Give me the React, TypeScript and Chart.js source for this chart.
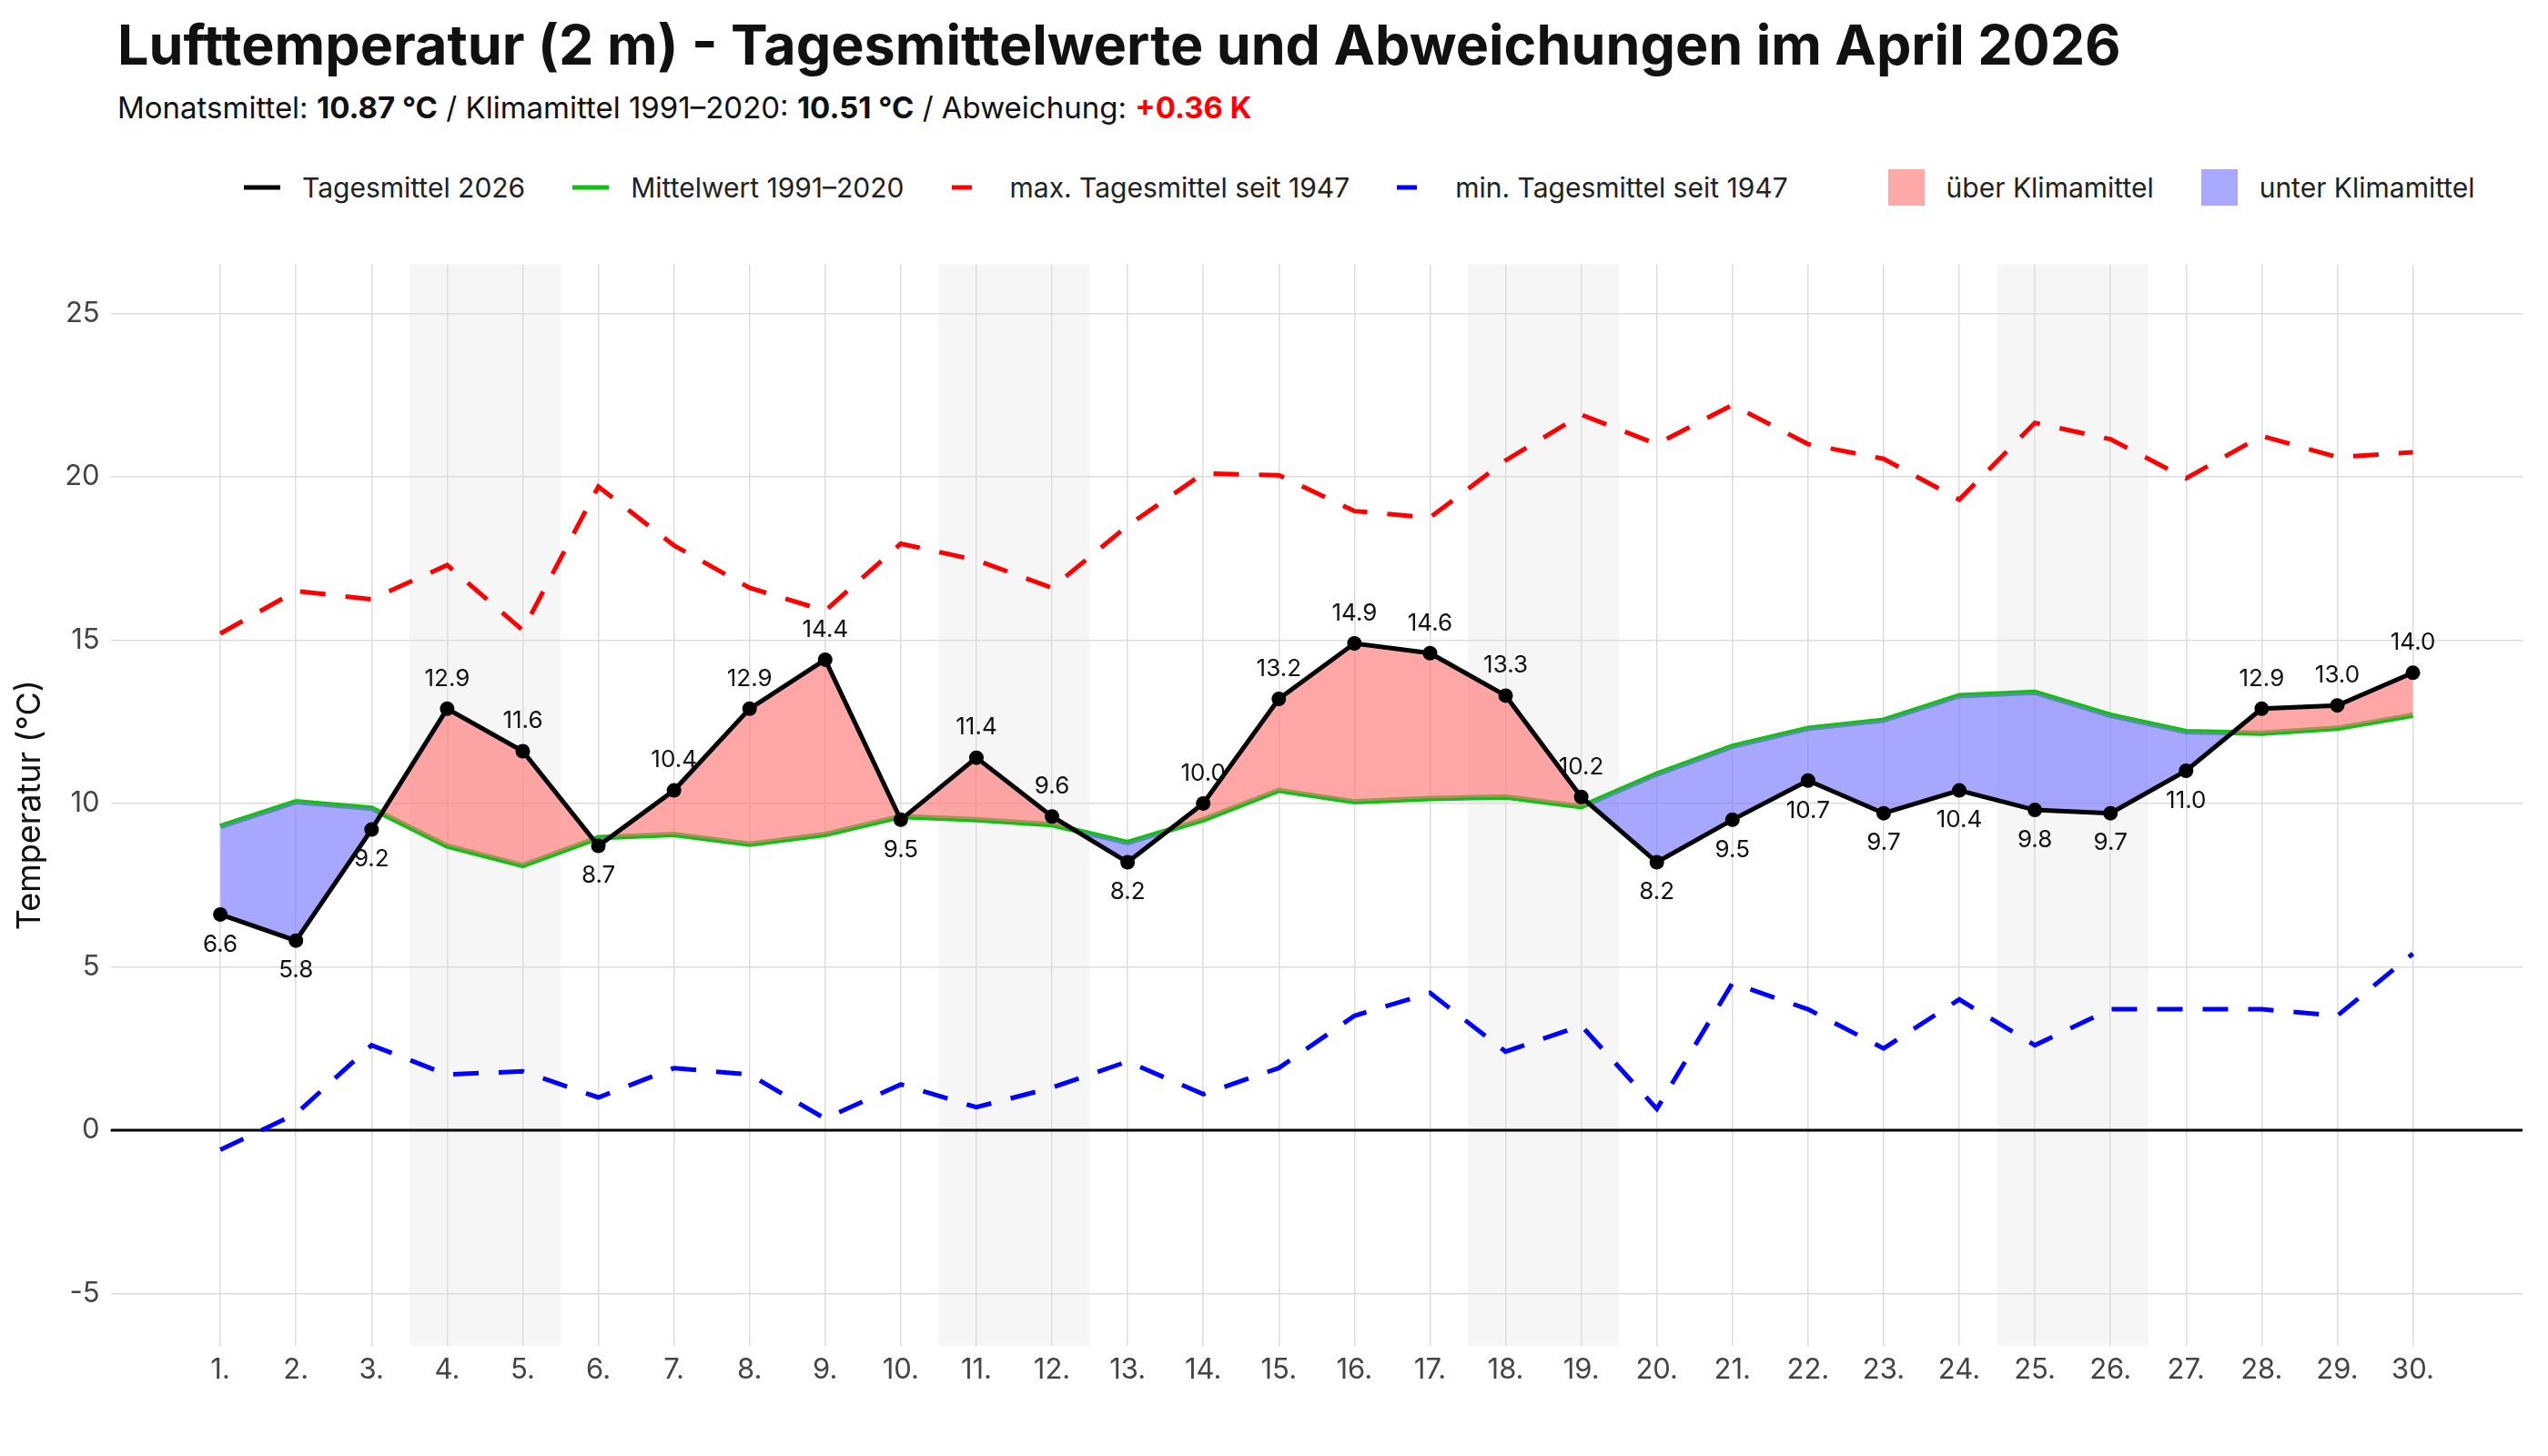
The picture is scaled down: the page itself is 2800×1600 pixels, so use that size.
import React, { useEffect, useRef } from "react";
import { Chart, registerables } from "chart.js";
Chart.register(...registerables);

const days = Array.from({ length: 30 }, (_, i) => i + 1);
const daily = [6.6, 5.8, 9.2, 12.9, 11.6, 8.7, 10.4, 12.9, 14.4, 9.5, 11.4, 9.6, 8.2, 10.0, 13.2, 14.9, 14.6, 13.3, 10.2, 8.2, 9.5, 10.7, 9.7, 10.4, 9.8, 9.7, 11.0, 12.9, 13.0, 14.0];
const climate = [9.3, 10.05, 9.85, 8.7, 8.1, 8.95, 9.05, 8.75, 9.05, 9.6, 9.5, 9.35, 8.8, 9.5, 10.4, 10.05, 10.15, 10.2, 9.9, 10.9, 11.75, 12.3, 12.55, 13.3, 13.4, 12.7, 12.2, 12.15, 12.3, 12.7];
const maxSince = [15.2, 16.5, 16.25, 17.3, 15.3, 19.7, 17.9, 16.6, 15.9, 17.95, 17.45, 16.6, 18.5, 20.1, 20.05, 18.95, 18.75, 20.5, 21.9, 21.0, 22.2, 21.0, 20.55, 19.3, 21.65, 21.15, 19.95, 21.25, 20.6, 20.75];
const minSince = [-0.6, 0.5, 2.6, 1.7, 1.8, 1.0, 1.9, 1.7, 0.35, 1.4, 0.7, 1.3, 2.1, 1.1, 1.9, 3.5, 4.2, 2.4, 3.2, 0.65, 4.5, 3.7, 2.5, 4.0, 2.6, 3.7, 3.7, 3.7, 3.5, 5.4];
const weekends = [[4, 5], [11, 12], [18, 19], [25, 26]];

const FONT = "Inter, 'Noto Sans', sans-serif";

const bgFirst = {
  id: "bgFirst",
  beforeDraw(chart: any) {
    const { ctx, chartArea, scales } = chart;
    ctx.save();
    ctx.fillStyle = "#f6f6f6";
    for (const [a, b] of weekends) {
      const x1 = scales.x.getPixelForValue(a - 0.5);
      const x2 = scales.x.getPixelForValue(b + 0.5);
      ctx.fillRect(x1, chartArea.top, x2 - x1, chartArea.bottom - chartArea.top);
    }
    ctx.restore();
  },
};
const zeroAndLabels = {
  id: "labels",
  afterDatasetsDraw(chart: any) {
    const { ctx, scales } = chart;
    ctx.save();
    ctx.font = `26px ${FONT}`;
    ctx.fillStyle = "#111";
    ctx.textAlign = "center";
    daily.forEach((v, i) => {
      const x = scales.x.getPixelForValue(i + 1);
      const y = scales.y.getPixelForValue(v);
      if (v > climate[i]) {
        ctx.textBaseline = "bottom";
        ctx.fillText(v.toFixed(1), x, y - 20);
      } else {
        ctx.textBaseline = "top";
        ctx.fillText(v.toFixed(1), x, y + 20);
      }
    });
    ctx.restore();
  },
  beforeDatasetsDraw(chart: any) {
    const { ctx, scales, chartArea } = chart;
    const y0 = scales.y.getPixelForValue(0);
    ctx.save();
    ctx.strokeStyle = "#000";
    ctx.lineWidth = 3;
    ctx.beginPath();
    ctx.moveTo(chartArea.left, y0);
    ctx.lineTo(chartArea.right, y0);
    ctx.stroke();
    ctx.restore();
  },
};

function LegendLine({ color, dash }: { color: string; dash?: boolean }) {
  return (
    <svg width="40" height="10" style={{ marginRight: 24 }}>
      <line x1="0" y1="5" x2="40" y2="5" stroke={color} strokeWidth="5" strokeDasharray={dash ? "22 18" : undefined} />
    </svg>
  );
}

export default function App() {
  const ref = useRef<HTMLCanvasElement>(null);
  useEffect(() => {
    const pts = (arr: number[]) => arr.map((v, i) => ({ x: i + 1, y: v }));
    const chart = new Chart(ref.current!, {
      type: "line",
      data: {
        datasets: [
          { label: "clim", data: pts(climate), borderColor: "#11c011", borderWidth: 6, pointRadius: 0, fill: false, order: 2 },
          {
            label: "daily", data: pts(daily), borderColor: "#000", borderWidth: 5, pointRadius: 8, pointBackgroundColor: "#000", pointBorderWidth: 0,
            fill: { target: 0, above: "rgba(255,120,120,0.65)", below: "rgba(120,120,255,0.65)" }, order: 1,
          },
          { label: "max", data: pts(maxSince), borderColor: "#ff0000", borderWidth: 5, borderDash: [28, 22], pointRadius: 0, fill: false, order: 3 },
          { label: "min", data: pts(minSince), borderColor: "#0000ff", borderWidth: 5, borderDash: [28, 22], pointRadius: 0, fill: false, order: 3 },
        ] as any,
      },
      options: {
        animation: false,
        responsive: true,
        maintainAspectRatio: false,
        layout: { padding: { right: 20 } },
        plugins: { legend: { display: false }, tooltip: { enabled: false } },
        scales: {
          x: {
            type: "linear", min: -0.45, max: 31.45,
            afterBuildTicks: (s: any) => { s.ticks = days.map((d) => ({ value: d })); },
            ticks: { callback: (v: any) => `${v}.`, font: { size: 31, family: FONT }, color: "#444", padding: 8 },
            grid: { color: "#dddddd", lineWidth: 1.5, drawTicks: false },
            border: { display: false },
          },
          y: {
            min: -6.6, max: 26.5,
            afterBuildTicks: (s: any) => { s.ticks = [-5, 0, 5, 10, 15, 20, 25].map((v) => ({ value: v })); },
            ticks: { font: { size: 31, family: FONT }, color: "#444", padding: 12 },
            grid: { color: "#dddddd", lineWidth: 1.5, drawTicks: false },
            border: { display: false },
            title: { display: true, text: "Temperatur (°C)", font: { size: 36, family: FONT }, color: "#111" },
          },
        },
      } as any,
      plugins: [bgFirst, zeroAndLabels],
    });
    return () => chart.destroy();
  }, []);

  const legendText: React.CSSProperties = { fontSize: 30, color: "#222" };
  return (
    <div style={{ width: 2784, height: 1580, fontFamily: FONT, position: "relative", background: "#fff" }}>
      <div style={{ position: "absolute", left: 121, top: 4, fontSize: 61, fontWeight: 700, color: "#111" }}>
        Lufttemperatur (2 m) - Tagesmittelwerte und Abweichungen im April 2026
      </div>
      <div style={{ position: "absolute", left: 121, top: 90, fontSize: 33, color: "#111" }}>
        Monatsmittel: <b>10.87 °C</b> / Klimamittel 1991–2020: <b>10.51 °C</b> / Abweichung: <b style={{ color: "#ff0000" }}>+0.36 K</b>
      </div>
      <div style={{ position: "absolute", left: 260, top: 178, display: "flex", alignItems: "center", ...legendText }}>
        <LegendLine color="#000" /><span style={{ marginRight: 52 }}>Tagesmittel 2026</span>
        <LegendLine color="#11c011" /><span style={{ marginRight: 52 }}>Mittelwert 1991–2020</span>
        <LegendLine color="#ff0000" dash /><span style={{ marginRight: 52 }}>max. Tagesmittel seit 1947</span>
        <LegendLine color="#0000ff" dash /><span style={{ marginRight: 110 }}>min. Tagesmittel seit 1947</span>
        <span style={{ width: 40, height: 40, background: "#ffa8a8", marginRight: 24, display: "inline-block" }} />
        <span style={{ marginRight: 52 }}>über Klimamittel</span>
        <span style={{ width: 40, height: 40, background: "#a8a8ff", marginRight: 24, display: "inline-block" }} />
        <span>unter Klimamittel</span>
      </div>
      <div style={{ position: "absolute", left: 0, top: 252, width: 2784, height: 1272 }}>
        <canvas ref={ref} />
      </div>
    </div>
  );
}
